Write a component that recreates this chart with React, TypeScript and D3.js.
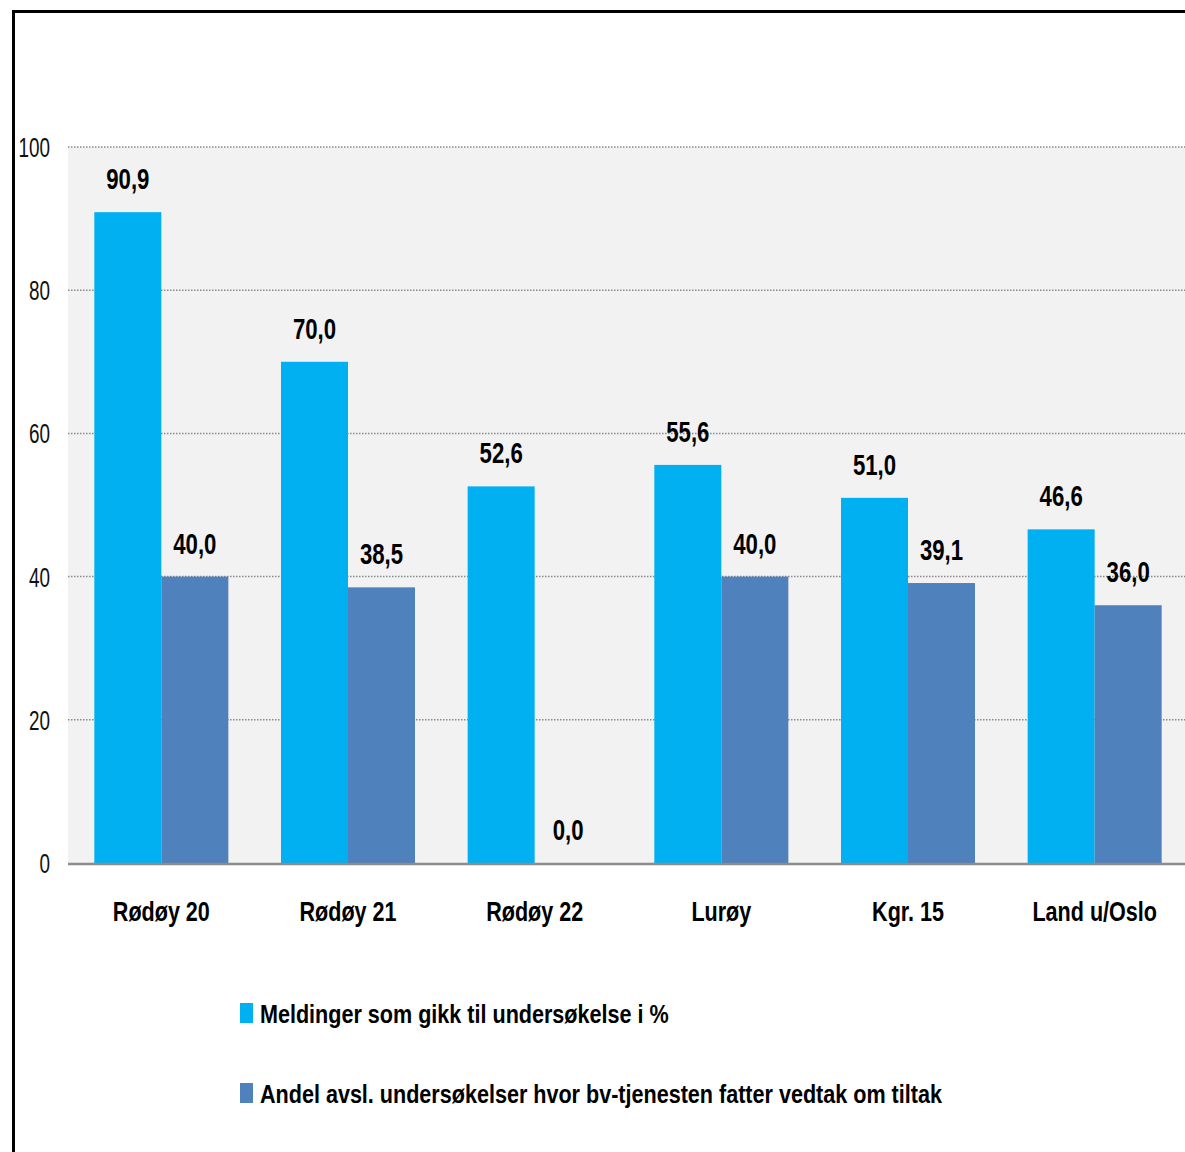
import React from "react";
import * as d3 from "d3";

const categories = ["Rødøy 20", "Rødøy 21", "Rødøy 22", "Lurøy", "Kgr. 15", "Land u/Oslo"];
const meldinger = [90.9, 70.0, 52.6, 55.6, 51.0, 46.6];
const andel = [40.0, 38.5, 0.0, 40.0, 39.1, 36.0];
const seriesNames = [
  "Meldinger som gikk til undersøkelse i %",
  "Andel avsl. undersøkelser hvor bv-tjenesten fatter vedtak om tiltak",
];
const seriesColors = ["#00B0F0", "#4F81BD"];
const yTicks = [0, 20, 40, 60, 80, 100];

const W = 1185;
const H = 1152;
const FONT = "'Liberation Sans', Arial, sans-serif";

function SText({ x, y, sx, size, anchor = "middle", weight = "normal", children, fill = "#000" }: any) {
  return (
    <text
      transform={`translate(${x},${y}) scale(${sx},1)`}
      textAnchor={anchor}
      fontSize={size}
      fontFamily={FONT}
      fontWeight={weight}
      fill={fill}
    >
      {children}
    </text>
  );
}

export default function App() {
  const plotLeft = 68;
  const plotRight = 1188;
  const y = d3.scaleLinear().domain([0, 100]).range([863, 147]);
  const x0 = d3.scaleBand().domain(categories).range([plotLeft, plotRight]).paddingInner(0.282).paddingOuter(0.141);
  const x1 = d3.scaleBand().domain(["0", "1"]).range([0, x0.bandwidth()]);
  const series = [meldinger, andel];
  const fmt = (v: number) => v.toFixed(1).replace(".", ",");

  return (
    <svg width={W} height={H} style={{ position: "absolute", left: 0, top: 0, background: "#fff" }}>
      <rect x={0} y={0} width={W} height={H} fill="#fff" />
      <rect x={plotLeft} y={y(100)} width={W - plotLeft} height={y(0) - y(100)} fill="#F2F2F2" />
      {yTicks.filter((t) => t > 0).map((t) => (
        <line key={t} x1={plotLeft} x2={W} y1={y(t)} y2={y(t)} stroke="#8a8a8a" strokeWidth={1.5} strokeDasharray="1.5,1.5" />
      ))}
      {categories.map((c, i) =>
        series.map((s, j) => {
          const bx = (x0(c) as number) + (x1(String(j)) as number);
          return (
            <rect key={c + j} x={bx} y={y(s[i])} width={x1.bandwidth()} height={y(0) - y(s[i])} fill={seriesColors[j]} />
          );
        })
      )}
      <line x1={plotLeft} x2={W} y1={y(0) + 1} y2={y(0) + 1} stroke="#8c8c8c" strokeWidth={2.5} />
      {yTicks.map((t) => (
        <SText key={t} x={50} y={y(t) + 10} sx={0.7} size={27} anchor="end" fill="#111">
          {t}
        </SText>
      ))}
      {categories.map((c, i) =>
        series.map((s, j) => {
          const cx = (x0(c) as number) + (x1(String(j)) as number) + x1.bandwidth() / 2;
          return (
            <SText key={"l" + c + j} x={cx} y={y(s[i]) - 23} sx={0.74} size={30} weight="bold">
              {fmt(s[i])}
            </SText>
          );
        })
      )}
      {categories.map((c) => (
        <SText key={"c" + c} x={(x0(c) as number) + x0.bandwidth() / 2} y={921} sx={0.77} size={28} weight="bold">
          {c}
        </SText>
      ))}
      {seriesNames.map((n, j) => (
        <g key={n}>
          <rect x={240} y={1003 + j * 80} width={13} height={20} fill={seriesColors[j]} />
          <SText x={260} y={1023 + j * 80} sx={0.83} size={26} anchor="start" weight="bold">
            {n}
          </SText>
        </g>
      ))}
      <path d={`M13.5,${H} V11.5 H${W}`} fill="none" stroke="#000" strokeWidth={3} />
    </svg>
  );
}
